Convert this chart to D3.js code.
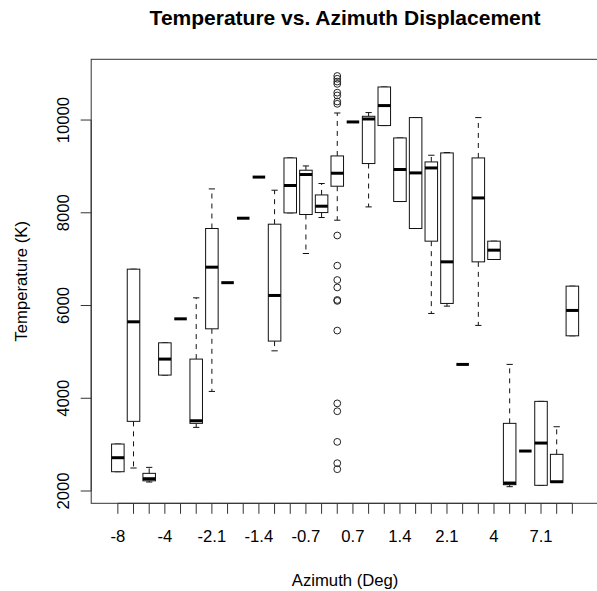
<!DOCTYPE html>
<html>
<head>
<meta charset="utf-8">
<script src="https://cdn.jsdelivr.net/npm/d3@7/dist/d3.min.js"></script>
<style>
  body { margin: 0; background: #fff; }
  svg { display: block; }
  text { font-family: "Liberation Sans", Arial, Helvetica, sans-serif; fill: #000; }
</style>
</head>
<body>
<svg id="chart" width="597" height="591"></svg>
<script>
// Azimuth displacement groups (degrees), in plotting order
const categories = ["-8", "-7", "-6", "-4", "-3", "-2.5", "-2.1", "-1.9", "-1.6", "-1.4",
                    "-1.2", "-0.9", "-0.7", "-0.2", "0", "0.7", "0.9", "1.2", "1.4", "1.6",
                    "1.9", "2.1", "2.6", "3.2", "4", "5", "6", "7.1", "8", "9"];

// Five-number summaries of temperature (K) per group
const whiskerLow    = [2416, 2496, 2194, 4500, 5713, 3373, 4148, 6493, 7883, 8770,
                       5023, 7998, 7122, 7898, 7840, 9959, 8127, 9881, 8243, 7661,
                       5829, 5987, 4730, 5571, 6993, 2093, 2862, 2123, 2185, 5347];
const lowerQuartile = [2416, 3502, 2220, 4500, 5713, 3459, 5498, 6493, 7883, 8770,
                       5233, 7998, 7963, 8005, 8573, 9959, 9062, 9881, 8243, 7661,
                       7388, 6045, 4730, 6942, 6993, 2136, 2862, 2123, 2185, 5347];
const medians       = [2718, 5649, 2265, 4845, 5713, 3515, 6827, 6493, 7883, 8770,
                       6217, 8588, 8825, 8142, 8853, 9959, 10023, 10312, 8933, 8860,
                       8967, 6942, 4730, 8320, 7194, 2172, 2862, 3034, 2200, 5894];
const upperQuartile = [3013, 6784, 2381, 5196, 5713, 4845, 7661, 6493, 7883, 8770,
                       7754, 9183, 8918, 8385, 9226, 9959, 10081, 10713, 9614, 10053,
                       9097, 9291, 4730, 9183, 7388, 3459, 2862, 3933, 2791, 6418];
const whiskerHigh   = [3013, 6784, 2510, 5196, 5713, 6166, 8515, 6493, 7883, 8770,
                       8487, 9183, 9010, 8631, 10152, 9959, 10161, 10713, 9614, 10053,
                       9241, 9300, 4730, 10053, 7388, 4730, 2862, 3933, 3386, 6418];

// Points beyond the whiskers
const outlierGroup  = ["0", "0", "0", "0", "0", "0", "0", "0", "0", "0",
                       "0", "0", "0", "0", "0", "0", "0", "0", "0", "0"];
const outlierValues = [10950, 10890, 10830, 10780, 10590, 10530, 10400, 10350,
                       7510, 6860, 6550, 6390, 6120, 6100, 5460, 3890, 3720, 3060, 2600, 2470];

const yTicks = [2000, 4000, 6000, 8000, 10000];
// Every third group is labelled along the x axis
const labelledGroups = categories.filter((d, i) => i % 3 === 0);

const svg = d3.select("#chart");
const plot = { left: 91.2, right: 599, top: 59.3, bottom: 503.3 };

const x = d3.scaleLinear().domain([-0.7, categories.length + 1.7]).range([plot.left, plot.right]);
const pos = name => x(categories.indexOf(name) + 1);
const y = d3.scaleLinear().domain([1735, 11310]).range([plot.bottom, plot.top]);

const boxHalf = x(0.4) - x(0);
const stapleHalf = x(0.2) - x(0);

const stats = categories.map((c, i) => ({
  name: c, lo: whiskerLow[i], q1: lowerQuartile[i], med: medians[i],
  q3: upperQuartile[i], hi: whiskerHigh[i]
}));

const g = svg.append("g");

// whiskers (dashed) and staples
const wh = g.append("g").attr("stroke", "#111").attr("fill", "none");
stats.forEach(s => {
  const cx = pos(s.name);
  [[s.q3, s.hi], [s.q1, s.lo]].forEach(([from, to]) => {
    if (from !== to) {
      wh.append("line").attr("x1", cx).attr("x2", cx)
        .attr("y1", y(from)).attr("y2", y(to))
        .attr("stroke-dasharray", "5,5").attr("stroke-width", 1);
    }
    wh.append("line").attr("x1", cx - stapleHalf).attr("x2", cx + stapleHalf)
      .attr("y1", y(to)).attr("y2", y(to)).attr("stroke-width", 1);
  });
});

// boxes
g.append("g").selectAll("rect").data(stats).join("rect")
  .attr("x", d => pos(d.name) - boxHalf)
  .attr("width", boxHalf * 2)
  .attr("y", d => y(d.q3))
  .attr("height", d => y(d.q1) - y(d.q3))
  .attr("fill", "#fff").attr("stroke", "#111").attr("stroke-width", 1);

// medians
g.append("g").selectAll("line").data(stats).join("line")
  .attr("x1", d => pos(d.name) - boxHalf)
  .attr("x2", d => pos(d.name) + boxHalf)
  .attr("y1", d => y(d.med)).attr("y2", d => y(d.med))
  .attr("stroke", "#000").attr("stroke-width", 3);

// outliers
g.append("g").selectAll("circle").data(outlierValues).join("circle")
  .attr("cx", (d, i) => pos(outlierGroup[i]))
  .attr("cy", d => y(d))
  .attr("r", 3.4)
  .attr("fill", "none").attr("stroke", "#222").attr("stroke-width", 1);

// plot frame
svg.append("rect")
  .attr("x", plot.left).attr("y", plot.top)
  .attr("width", plot.right - plot.left).attr("height", plot.bottom - plot.top)
  .attr("fill", "none").attr("stroke", "#333").attr("stroke-width", 1);

// x axis
const xAxis = svg.append("g").attr("stroke", "#333");
xAxis.append("line")
  .attr("x1", pos(categories[0])).attr("x2", pos(categories[categories.length - 1]))
  .attr("y1", plot.bottom).attr("y2", plot.bottom);
xAxis.selectAll("line.tick").data(categories).join("line").attr("class", "tick")
  .attr("x1", d => pos(d)).attr("x2", d => pos(d))
  .attr("y1", plot.bottom).attr("y2", plot.bottom + 10.5);
svg.append("g").selectAll("text").data(labelledGroups).join("text")
  .attr("x", d => pos(d)).attr("y", 542)
  .attr("text-anchor", "middle").attr("font-size", 16.7)
  .text(d => d);

// y axis
const yAxis = svg.append("g").attr("stroke", "#333");
yAxis.append("line")
  .attr("x1", plot.left).attr("x2", plot.left)
  .attr("y1", y(yTicks[0])).attr("y2", y(yTicks[yTicks.length - 1]));
yAxis.selectAll("line.tick").data(yTicks).join("line").attr("class", "tick")
  .attr("x1", plot.left - 10.5).attr("x2", plot.left)
  .attr("y1", d => y(d)).attr("y2", d => y(d));
svg.append("g").selectAll("text").data(yTicks).join("text")
  .attr("transform", d => `translate(69,${y(d)}) rotate(-90)`)
  .attr("text-anchor", "middle").attr("font-size", 16.7)
  .text(d => d);

// titles
const midX = (plot.left + plot.right) / 2;
svg.append("text").attr("x", midX).attr("y", 25)
  .attr("text-anchor", "middle").attr("font-size", 21).attr("font-weight", "bold")
  .text("Temperature vs. Azimuth Displacement");
svg.append("text").attr("x", midX).attr("y", 585.5)
  .attr("text-anchor", "middle").attr("font-size", 16.7)
  .text("Azimuth (Deg)");
svg.append("text")
  .attr("transform", `translate(27,${(plot.top + plot.bottom) / 2}) rotate(-90)`)
  .attr("text-anchor", "middle").attr("font-size", 16.7)
  .text("Temperature (K)");
</script>
</body>
</html>
